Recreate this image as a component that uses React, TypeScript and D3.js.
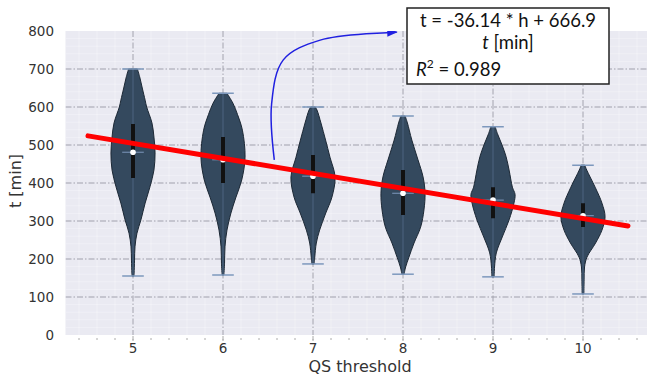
import * as d3 from 'd3';
import React from 'react';

// QS threshold categories and per-violin stats (t in minutes)
const thresholds = [5, 6, 7, 8, 9, 10];
const medians = [481, 461, 418, 373, 355, 314];
const q1 = [413, 400, 373, 316, 307, 284];
const q3 = [555, 521, 474, 434, 389, 347];
const mins = [155, 158, 187, 160, 153, 108];
const maxs = [700, 636, 600, 576, 548, 447];

// relative density profiles [t, density]
const dens5 = [[155, 0.04], [163, 0.05], [197, 0.07], [232, 0.09], [268, 0.18], [303, 0.36], [347, 0.55], [390, 0.77], [434, 0.95], [479, 1], [521, 0.95], [558, 0.86], [600, 0.62], [618, 0.55], [650, 0.42], [680, 0.3], [700, 0.2]];
const dens6 = [[158, 0.04], [189, 0.07], [232, 0.09], [276, 0.18], [321, 0.36], [363, 0.59], [408, 0.85], [468, 1], [539, 0.88], [580, 0.66], [610, 0.45], [636, 0.18]];
const dens7 = [[187, 0.05], [205, 0.08], [242, 0.15], [276, 0.3], [321, 0.58], [363, 0.86], [416, 1], [468, 0.77], [513, 0.57], [558, 0.36], [592, 0.18], [600, 0.1]];
const dens8 = [[160, 0.05], [179, 0.12], [205, 0.27], [242, 0.5], [284, 0.8], [329, 0.95], [373, 1], [416, 0.91], [461, 0.68], [513, 0.4], [558, 0.2], [576, 0.1]];
const dens9 = [[153, 0.05], [179, 0.07], [216, 0.15], [258, 0.42], [303, 0.73], [347, 0.95], [370, 1], [389, 0.88], [434, 0.73], [470, 0.59], [500, 0.41], [530, 0.2], [548, 0.1]];
const dens10 = [[108, 0.04], [145, 0.05], [179, 0.07], [205, 0.18], [242, 0.57], [276, 0.86], [311, 1], [347, 0.86], [389, 0.55], [434, 0.17], [447, 0.08]];
const densities = [dens5, dens6, dens7, dens8, dens9, dens10];

const yTicks = [0, 100, 200, 300, 400, 500, 600, 700, 800];

// regression line endpoints
const fitH = [4.5, 10.5];
const fitT = [524, 287];

// annotation arrow (data coords)
const arrowPts = [[6.57, 461], [6.54, 608], [6.67, 724], [7.08, 776], [7.93, 797]];

const W = 647;
const H = 376;

export default function App() {
  const x = d3.scaleLinear().domain([4.25, 10.75]).range([65.5, 650.5]);
  const y = d3.scaleLinear().domain([0, 800]).range([335, 31]);
  const halfW = 0.245;
  const capW = 0.12;

  const area = d3
    .area<number[]>()
    .curve(d3.curveCatmullRom.alpha(0.5))
    .y(d => y(d[0]));

  const minorX = d3.range(4.4, 10.75, 0.2);
  const minorY = d3.range(20, 800, 20).filter(v => v % 100 !== 0);
  const [x0, x1] = x.range();
  const [yb, yt] = y.range();

  const arrowLine = d3
    .line<number[]>()
    .curve(d3.curveCatmullRom.alpha(0.5))
    .x(d => x(d[0]))
    .y(d => y(d[1]));

  const font = 'DejaVu Sans, sans-serif';

  return (
    <svg
      width={W}
      height={H}
      style={{position: 'absolute', left: 0, top: 0, background: '#fff'}}
    >
      <defs>
        <clipPath id="plot">
          <rect x={x0} y={yt} width={x1 - x0} height={yb - yt} />
        </clipPath>
        <marker
          id="head"
          viewBox="0 0 10 10"
          refX="9"
          refY="5"
          markerWidth="7"
          markerHeight="7"
          orient="auto"
        >
          <path d="M0,1 L10,5 L0,9 z" fill="#2020e0" />
        </marker>
      </defs>

      <rect x={x0} y={yt} width={x1 - x0} height={yb - yt} fill="#eaeaf2" />

      <g clipPath="url(#plot)">
        {/* minor grid */}
        {minorX.map((h, i) => (
          <line key={'mx' + i} x1={x(h)} x2={x(h)} y1={yt} y2={yb} stroke="#fff" strokeWidth={0.7} opacity={0.45} />
        ))}
        {minorY.map((v, i) => (
          <line key={'my' + i} x1={x0} x2={x1} y1={y(v)} y2={y(v)} stroke="#fff" strokeWidth={0.7} opacity={0.45} />
        ))}
        {/* major grid */}
        {thresholds.map(h => (
          <line key={'gx' + h} x1={x(h)} x2={x(h)} y1={yt} y2={yb} stroke="#a0a0ac" strokeWidth={1} strokeDasharray="6,2,1.5,2" />
        ))}
        {yTicks.slice(1, -1).map(v => (
          <line key={'gy' + v} x1={x0} x2={x1} y1={y(v)} y2={y(v)} stroke="#a0a0ac" strokeWidth={1} strokeDasharray="6,2,1.5,2" />
        ))}

        {/* violins */}
        {thresholds.map((h, i) => (
          <g key={'v' + h}>
            <path
              d={
                area
                  .x0(d => x(h - d[1] * halfW))
                  .x1(d => x(h + d[1] * halfW))(densities[i]) || ''
              }
              fill="#34495e"
              stroke="#1c2835"
              strokeWidth={1}
            />
            <line x1={x(h)} x2={x(h)} y1={y(mins[i])} y2={y(maxs[i])} stroke="#4d6480" strokeWidth={1} />
            <line x1={x(h - capW)} x2={x(h + capW)} y1={y(mins[i])} y2={y(mins[i])} stroke="#7d98bd" strokeWidth={1.5} />
            <line x1={x(h - capW)} x2={x(h + capW)} y1={y(maxs[i])} y2={y(maxs[i])} stroke="#7d98bd" strokeWidth={1.5} />
            <line x1={x(h - capW)} x2={x(h + capW)} y1={y(medians[i])} y2={y(medians[i])} stroke="#7d98bd" strokeWidth={1} />
            <line x1={x(h)} x2={x(h)} y1={y(q1[i])} y2={y(q3[i])} stroke="#111" strokeWidth={4} />
            <circle cx={x(h)} cy={y(medians[i])} r={2.8} fill="#fff" />
          </g>
        ))}

        {/* regression line */}
        <line
          x1={x(fitH[0])}
          x2={x(fitH[1])}
          y1={y(fitT[0])}
          y2={y(fitT[1])}
          stroke="#ff0000"
          strokeWidth={5}
          strokeLinecap="round"
        />

        {/* arrow */}
        <path d={arrowLine(arrowPts) || ''} fill="none" stroke="#2020e0" strokeWidth={1.5} markerEnd="url(#head)" />
      </g>

      {/* x ticks */}
      {minorX.map((h, i) => (
        <line key={'tx' + i} x1={x(h)} x2={x(h)} y1={yb + 3} y2={yb + 5} stroke="#aaa" strokeWidth={1} />
      ))}
      {thresholds.map(h => (
        <g key={'lx' + h}>
          <line x1={x(h)} x2={x(h)} y1={yb + 1} y2={yb + 7} stroke="#aaa" strokeWidth={1} strokeDasharray="2,1" />
          <text x={x(h)} y={yb + 18} textAnchor="middle" fontFamily={font} fontSize={13.5} fill="#333">
            {h}
          </text>
        </g>
      ))}
      {yTicks.map(v => (
        <text key={'ly' + v} x={54} y={y(v) + 4.5} textAnchor="end" fontFamily={font} fontSize={13.5} fill="#333">
          {v}
        </text>
      ))}

      <text x={360} y={371.5} textAnchor="middle" fontFamily={font} fontSize={16} fill="#333">
        QS threshold
      </text>
      <text
        transform={`translate(21, ${(yt + yb) / 2 - 2}) rotate(-90)`}
        textAnchor="middle"
        fontFamily={font}
        fontSize={16}
        fill="#333"
      >
        t [min]
      </text>

      {/* annotation box */}
      <g fontFamily="Lato, sans-serif" fill="#111">
        <rect x={407} y={8} width={202} height={76} fill="#fff" stroke="#222" strokeWidth={1.5} />
        <text x={508} y={27} textAnchor="middle" fontSize={18.5}>
          t = -36.14 * h + 666.9
        </text>
        <text x={508} y={49} textAnchor="middle" fontSize={18.5}>
          <tspan fontStyle="italic">t</tspan> [min]
        </text>
        <text x={416} y={76} fontSize={18.5}>
          <tspan fontStyle="italic">R</tspan>
          <tspan dy={-8} fontSize={12}>2</tspan>
          <tspan dy={8}> = 0.989</tspan>
        </text>
      </g>
    </svg>
  );
}
